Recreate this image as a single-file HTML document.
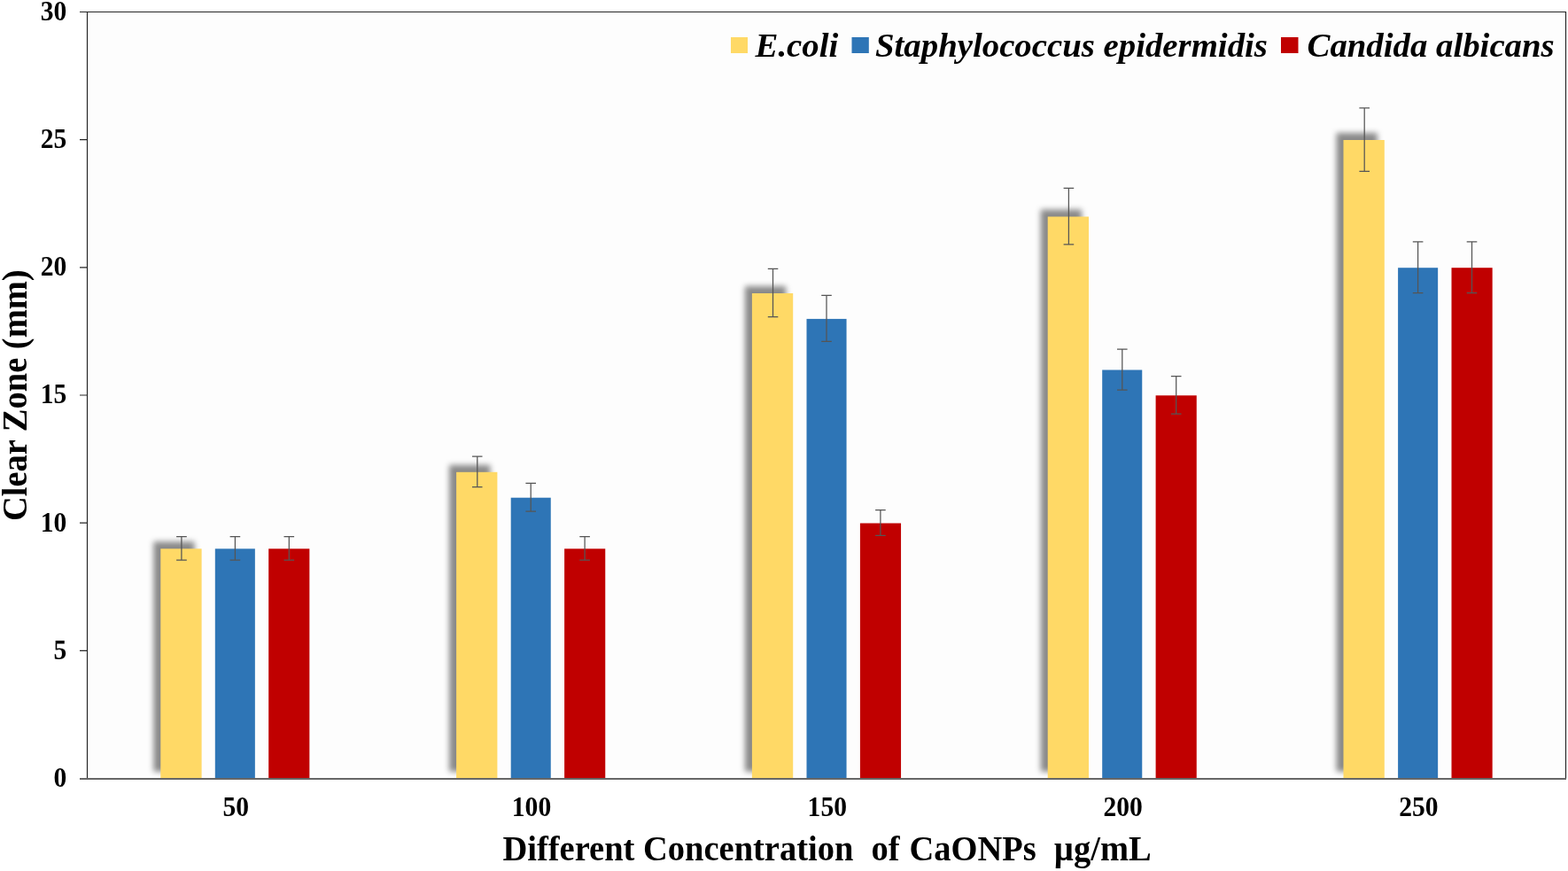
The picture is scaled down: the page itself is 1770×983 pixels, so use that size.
<!DOCTYPE html>
<html><head><meta charset="utf-8"><style>
html,body{margin:0;padding:0;background:#fff;}
svg{display:block;}
text{font-family:"Liberation Serif","Times New Roman",serif;font-weight:bold;fill:#000;}
</style></head><body>
<svg width="1770" height="983" viewBox="0 0 1770 983">
<defs><filter id="sh" x="-50%" y="-10%" width="200%" height="130%"><feGaussianBlur stdDeviation="3.4"/></filter></defs>
<rect x="98.5" y="13.5" width="1669" height="865" fill="#fdfdfd"/>
<g fill="#000" fill-opacity="0.46" filter="url(#sh)"><rect x="173.3" y="611.3" width="46.30" height="259.5"/><rect x="507.1" y="524.8" width="46.30" height="346.0"/><rect x="840.9" y="323.0" width="46.30" height="547.8"/><rect x="1174.7" y="236.5" width="46.30" height="634.3"/><rect x="1508.5" y="150.0" width="46.30" height="720.8"/></g>
<g><rect x="181.3" y="619.3" width="46.30" height="259.5" fill="#FFD966"/><rect x="242.8" y="619.3" width="45.05" height="259.5" fill="#2E75B6"/><rect x="303.2" y="619.3" width="46.15" height="259.5" fill="#C00000"/><rect x="515.1" y="532.8" width="46.30" height="346.0" fill="#FFD966"/><rect x="576.7" y="561.7" width="45.05" height="317.1" fill="#2E75B6"/><rect x="637.1" y="619.3" width="46.15" height="259.5" fill="#C00000"/><rect x="848.9" y="331.0" width="46.30" height="547.8" fill="#FFD966"/><rect x="910.5" y="359.9" width="45.05" height="518.9" fill="#2E75B6"/><rect x="970.9" y="590.5" width="46.15" height="288.3" fill="#C00000"/><rect x="1182.7" y="244.5" width="46.30" height="634.3" fill="#FFD966"/><rect x="1244.2" y="417.5" width="45.05" height="461.3" fill="#2E75B6"/><rect x="1304.6" y="446.3" width="46.15" height="432.4" fill="#C00000"/><rect x="1516.5" y="158.0" width="46.30" height="720.8" fill="#FFD966"/><rect x="1578.1" y="302.2" width="45.05" height="576.6" fill="#2E75B6"/><rect x="1638.5" y="302.2" width="46.15" height="576.6" fill="#C00000"/></g>
<g stroke="#555" stroke-width="1.25" fill="none"><path d="M199.1 605.6H210.8M204.9 605.6V632.1M199.1 632.1H210.8"/><path d="M259.6 605.6H271.2M265.4 605.6V632.1M259.6 632.1H271.2"/><path d="M320.5 605.6H332.1M326.3 605.6V632.1M320.5 632.1H332.1"/><path d="M533.0 515.0H544.5M538.8 515.0V549.6M533.0 549.6H544.5"/><path d="M593.4 545.3H605.0M599.2 545.3V577.0M593.4 577.0H605.0"/><path d="M654.3 605.6H665.9M660.1 605.6V632.1M654.3 632.1H665.9"/><path d="M866.8 303.4H878.3M872.5 303.4V357.6M866.8 357.6H878.3"/><path d="M927.2 333.4H938.8M933.0 333.4V385.3M927.2 385.3H938.8"/><path d="M988.1 575.6H999.7M993.9 575.6V604.4M988.1 604.4H999.7"/><path d="M1200.6 212.3H1212.2M1206.4 212.3V275.8M1200.6 275.8H1212.2"/><path d="M1261.0 394.0H1272.6M1266.8 394.0V440.1M1261.0 440.1H1272.6"/><path d="M1321.9 424.5H1333.5M1327.7 424.5V467.2M1321.9 467.2H1333.5"/><path d="M1534.4 121.8H1546.0M1540.2 121.8V193.3M1534.4 193.3H1546.0"/><path d="M1594.8 272.9H1606.4M1600.6 272.9V330.5M1594.8 330.5H1606.4"/><path d="M1655.7 272.9H1667.3M1661.5 272.9V330.5M1655.7 330.5H1667.3"/></g>
<path d="M98.5 878V13.5H1767.5V879" stroke="#262626" stroke-width="1.2" fill="none"/>
<path d="M90 734.3H98M90 590.2H98M90 446.0H98M90 301.8H98M90 157.7H98M90 13.5H98" stroke="#262626" stroke-width="1.2" fill="none"/>
<path d="M90 879H1768" stroke="#666" stroke-width="2" fill="none"/>
<g font-size="29.6" text-anchor="end"><text transform="translate(75.3 887.9) scale(1 1.065)">0</text><text transform="translate(75.3 743.7) scale(1 1.065)">5</text><text transform="translate(75.3 599.6) scale(1 1.065)">10</text><text transform="translate(75.3 455.4) scale(1 1.065)">15</text><text transform="translate(75.3 311.2) scale(1 1.065)">20</text><text transform="translate(75.3 167.1) scale(1 1.065)">25</text><text transform="translate(75.3 22.9) scale(1 1.065)">30</text></g>
<g font-size="29.6" text-anchor="middle"><text transform="translate(266.2 921.4) scale(1 1.065)">50</text><text transform="translate(600.0 921.4) scale(1 1.065)">100</text><text transform="translate(933.8 921.4) scale(1 1.065)">150</text><text transform="translate(1267.6 921.4) scale(1 1.065)">200</text><text transform="translate(1601.4 921.4) scale(1 1.065)">250</text></g>
<text transform="translate(567.5 971) scale(1 1.04)" font-size="38.5" xml:space="preserve">Different Concentration<tspan dx="1">  of</tspan><tspan dx="1.2"> CaONPs</tspan><tspan dx="0.8">  µg/mL</tspan></text>
<text transform="translate(30 588) rotate(-90) scale(1 1.04)" font-size="38.5">Clear Zone (mm)</text>
<g>
<rect x="825" y="42" width="19" height="18" fill="#FFD966"/>
<text x="852.5" y="63.6" font-size="38.8" font-style="italic">E.coli</text>
<rect x="961.5" y="42" width="19.3" height="18" fill="#2E75B6"/>
<text x="988" y="63.6" font-size="38.8" font-style="italic">Staphylococcus epidermidis</text>
<rect x="1446" y="42" width="19.5" height="18" fill="#C00000"/>
<text x="1475.5" y="63.6" font-size="38.8" font-style="italic">Candida albicans</text>
</g>
</svg>
</body></html>
